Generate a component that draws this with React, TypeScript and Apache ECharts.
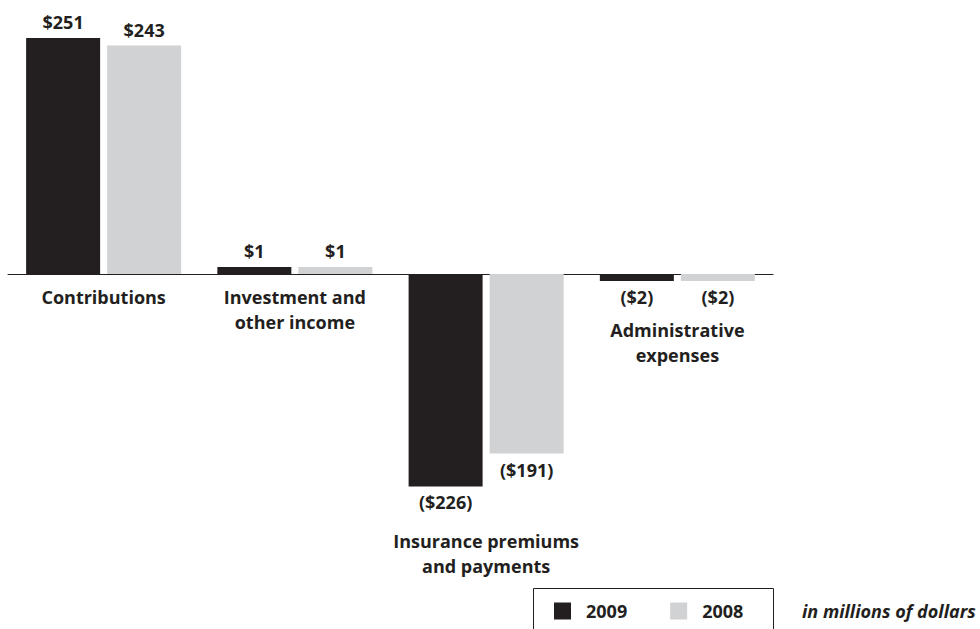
import React, { useEffect, useRef } from "react";
import * as echarts from "echarts";

// Cash flow components, in millions of dollars
const categories = [
  "Contributions",
  "Investment and\nother income",
  "Insurance premiums\nand payments",
  "Administrative\nexpenses",
];
const values2009 = [251, 1, -226, -2];
const values2008 = [243, 1, -191, -2];
const seriesNames = ["2009", "2008"];
const unitNote = "in millions of dollars";

const DARK = "#231f20";
const LIGHT = "#d1d2d4";
const FONT = "'Open Sans'";
const SIZE = 18;

const money = (v: number) => (v < 0 ? `($${-v})` : `$${v}`);

export default function App() {
  const ref = useRef<HTMLDivElement>(null);

  useEffect(() => {
    if (!ref.current) return;
    const chart = echarts.init(ref.current, undefined, { renderer: "svg" });

    const barSeries = (name: string, data: number[], color: string) => ({
      name,
      type: "bar",
      barWidth: 74,
      barGap: "9.5%",
      barMinHeight: 7,
      itemStyle: { color },
      data: data.map((v) => ({
        value: v,
        label: {
          show: true,
          position: v < 0 ? "bottom" : "top",
          distance: 7,
          formatter: () => money(v),
          color: DARK,
          fontFamily: FONT,
          fontWeight: "bold",
          fontSize: SIZE,
        },
      })),
    });

    // Category names sit under the axis, or under the lowest bar when negative
    const nameAnchors = categories.map((c, i) => {
      const low = Math.min(0, values2009[i], values2008[i]);
      return {
        value: [c, low],
        label: { distance: low < 0 ? 42 : 10 },
      };
    });

    chart.setOption({
      animation: false,
      grid: { left: 8, right: 207, top: 29.6, height: 479.4 },
      legend: {
        left: 549,
        top: 597,
        itemWidth: 17,
        itemHeight: 17,
        itemGap: 43,
        icon: "rect",
        data: seriesNames,
        textStyle: {
          color: DARK,
          fontFamily: FONT,
          fontWeight: "bold",
          fontSize: SIZE,
          padding: [0, 0, 0, 10],
        },
      },
      xAxis: {
        type: "category",
        data: categories,
        axisLine: { onZero: true, lineStyle: { color: DARK, width: 1 } },
        axisTick: { show: false },
        axisLabel: { show: false },
      },
      yAxis: {
        type: "value",
        min: -250,
        max: 260,
        show: false,
        splitLine: { show: false },
      },
      series: [
        barSeries(seriesNames[0], values2009, DARK),
        barSeries(seriesNames[1], values2008, LIGHT),
        {
          type: "scatter",
          symbolSize: 0,
          silent: true,
          itemStyle: { opacity: 1 },
          label: {
            show: true,
            position: "bottom",
            formatter: (p: any) => p.value[0],
            color: DARK,
            opacity: 1,
            fontFamily: FONT,
            fontWeight: "bold",
            fontSize: SIZE,
            lineHeight: 25,
            align: "center",
          },
          data: nameAnchors,
        },
      ],
      graphic: [
        {
          type: "rect",
          shape: { x: 533.5, y: 588.5, width: 240, height: 60 },
          style: { fill: "none", stroke: DARK, lineWidth: 1 },
          silent: true,
        },
        {
          type: "text",
          x: 802,
          y: 611,
          style: {
            text: unitNote,
            fill: DARK,
            font: `italic bold ${SIZE}px ${FONT}`,
            verticalAlign: "middle",
          },
          silent: true,
        },
      ],
    });

    return () => chart.dispose();
  }, []);

  return (
    <div
      ref={ref}
      style={{ position: "absolute", left: 0, top: 0, width: 980, height: 629 }}
    />
  );
}
